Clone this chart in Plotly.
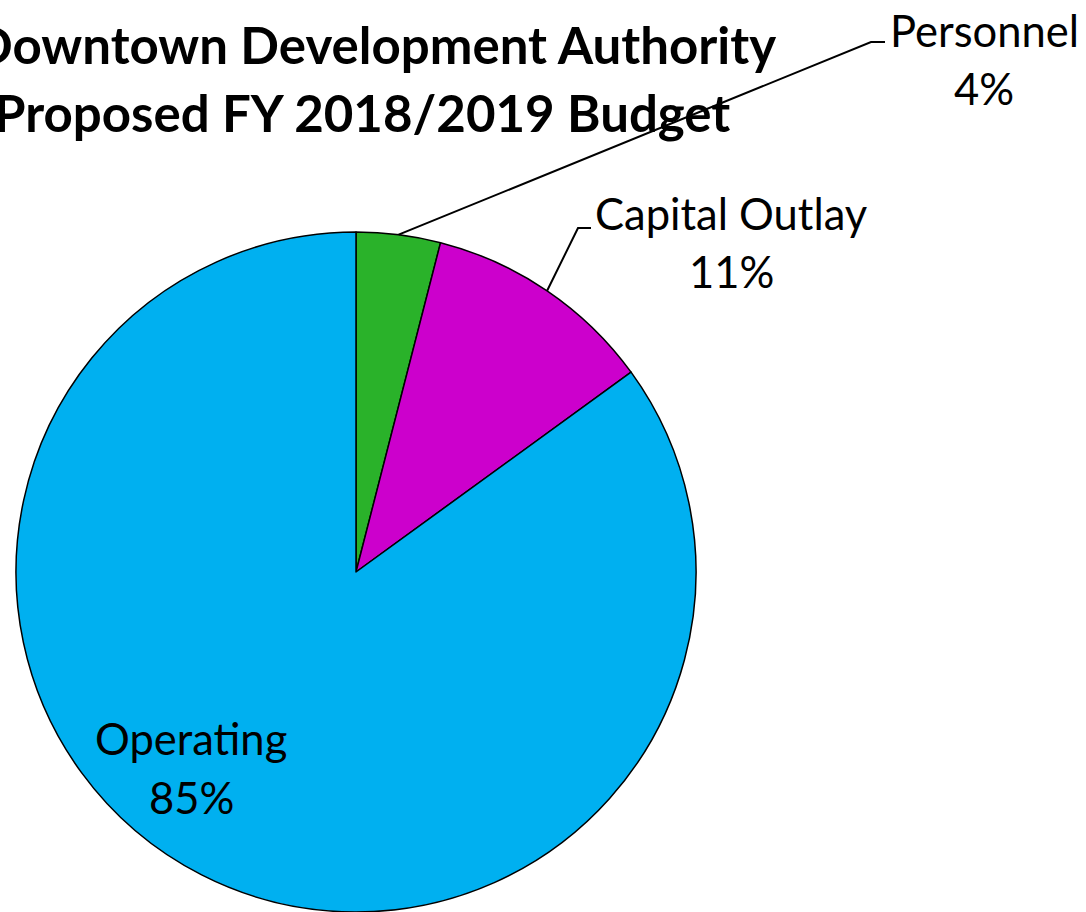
import math
import plotly.graph_objects as go

# Budget shares (percent of total)
categories = ["Personnel", "Capital Outlay", "Operating"]
shares = [4, 11, 85]
colors = ["#2AB22A", "#CC00CC", "#00B0F0"]

title_lines = ["Downtown Development Authority", "Proposed FY 2018/2019 Budget"]

W, H = 1086, 912
CX, CY, R = 356, 572, 340  # pie centre / radius in pixels

def px(x):
    return x / W

def py(y):
    return 1 - y / H

fig = go.Figure(
    go.Pie(
        labels=categories,
        values=shares,
        sort=False,
        direction="clockwise",
        rotation=0,
        marker=dict(colors=colors, line=dict(color="black", width=1.5)),
        textinfo="none",
        hoverinfo="label+percent",
        domain=dict(x=[px(CX - R), px(CX + R)], y=[py(CY + R), py(CY - R)]),
        showlegend=False,
    )
)

FONT = "Lato"
LABEL_SIZE = 43.5

# label placement: (centre x, name y, percent y), plus leader elbow for outside labels
label_pos = {
    "Personnel": dict(x=984, y1=30, y2=88, elbow=(871, 42), end=(885, 42)),
    "Capital Outlay": dict(x=731, y1=213, y2=271, elbow=(578, 228), end=(591, 228)),
    "Operating": dict(x=191, y1=738, y2=797, elbow=None, end=None),
}

annotations = []
shapes = []
total = sum(shares)
cum = 0
for cat, v in zip(categories, shares):
    mid = (cum + v / 2) / total * 2 * math.pi
    cum += v
    p = label_pos[cat]
    annotations.append(dict(text=cat, x=px(p["x"]), y=py(p["y1"]), xref="paper", yref="paper",
                            showarrow=False, xanchor="center", yanchor="middle",
                            font=dict(family=FONT, size=LABEL_SIZE, color="black")))
    annotations.append(dict(text=f"{v}%", x=px(p["x"]), y=py(p["y2"]), xref="paper", yref="paper",
                            showarrow=False, xanchor="center", yanchor="middle",
                            font=dict(family=FONT, size=LABEL_SIZE, color="black")))
    if p["elbow"] is not None:
        sx = CX + R * math.sin(mid)
        sy = CY - R * math.cos(mid)
        ex, ey = p["elbow"]
        hx, hy = p["end"]
        shapes.append(dict(type="path", xref="paper", yref="paper",
                           path=f"M {px(sx)},{py(sy)} L {px(ex)},{py(ey)} L {px(hx)},{py(hy)}",
                           line=dict(color="black", width=2)))

# two-line bold title
for text, xx, yy in zip(title_lines, [375, 362], [45, 113]):
    annotations.append(dict(text=f"<b>{text}</b>", x=px(xx), y=py(yy), xref="paper", yref="paper",
                            showarrow=False, xanchor="center", yanchor="middle",
                            font=dict(family=FONT, size=51, color="black")))

fig.update_layout(
    width=W, height=H,
    margin=dict(l=0, r=0, t=0, b=0),
    paper_bgcolor="white", plot_bgcolor="white",
    annotations=annotations,
    shapes=shapes,
)

fig.write_html("out.html")
